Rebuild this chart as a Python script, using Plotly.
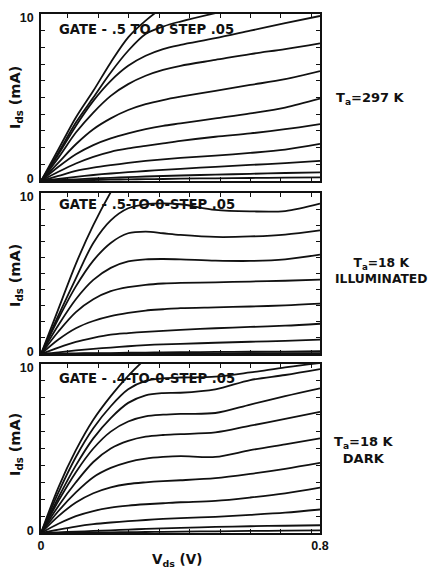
import plotly.graph_objects as go

# Drain voltage grid (V)
V = [0, 0.05, 0.1, 0.15, 0.2, 0.25, 0.3, 0.35, 0.4, 0.5, 0.6, 0.7, 0.8]

# Panel 1: Ta = 297 K, gate -.5 to 0 step .05  (Ids in mA)
p1_c1 = [0, 1.9, 3.8, 5.4, 7.1, 8.6, 9.6, 10.4, 11.0, 12.0, 12.8, 13.4, 14.0]
p1_c2 = [0, 1.7, 3.5, 5.0, 6.5, 7.8, 8.8, 9.25, 9.55, 10.05, 10.5, 10.9, 11.3]
p1_c3 = [0, 1.6, 3.3, 4.8, 6.0, 6.9, 7.5, 7.9, 8.15, 8.55, 9.0, 9.45, 9.88]
p1_c4 = [0, 1.4, 2.9, 4.1, 5.1, 5.8, 6.3, 6.65, 6.9, 7.25, 7.6, 7.9, 8.24]
p1_c5 = [0, 1.1, 2.2, 3.1, 3.75, 4.25, 4.6, 4.85, 5.05, 5.4, 5.75, 6.1, 6.58]
p1_c6 = [0, 0.85, 1.6, 2.15, 2.55, 2.85, 3.1, 3.3, 3.45, 3.75, 4.05, 4.4, 4.93]
p1_c7 = [0, 0.55, 1.05, 1.45, 1.75, 1.95, 2.1, 2.25, 2.4, 2.65, 2.85, 3.1, 3.41]
p1_c8 = [0, 0.3, 0.6, 0.8, 0.95, 1.08, 1.2, 1.3, 1.38, 1.52, 1.68, 1.88, 2.22]
p1_c9 = [0, 0.12, 0.25, 0.36, 0.45, 0.53, 0.6, 0.67, 0.73, 0.85, 0.96, 1.07, 1.2]
p1_c10 = [0, 0.05, 0.1, 0.15, 0.19, 0.23, 0.27, 0.3, 0.33, 0.38, 0.43, 0.48, 0.52]
p1_c11 = [0, 0.02, 0.04, 0.06, 0.08, 0.1, 0.11, 0.12, 0.14, 0.16, 0.18, 0.2, 0.22]

# Panel 2: Ta = 18 K illuminated
p2_c1 = [0, 2.8, 5.6, 8.0, 10.05, 11.8, 13.3, 14.6, 15.7, 17.5, 19.0, 20.3, 21.4]
p2_c2 = [0, 2.4, 4.7, 6.9, 8.3, 9.05, 9.3, 9.35, 9.3, 8.95, 8.86, 8.88, 9.34]
p2_c3 = [0, 2.2, 4.2, 5.8, 6.9, 7.5, 7.6, 7.5, 7.4, 7.27, 7.3, 7.42, 7.68]
p2_c4 = [0, 1.8, 3.4, 4.6, 5.35, 5.75, 5.88, 5.9, 5.88, 5.8, 5.78, 5.88, 6.17]
p2_c5 = [0, 1.4, 2.6, 3.4, 3.9, 4.15, 4.3, 4.38, 4.42, 4.45, 4.5, 4.55, 4.62]
p2_c6 = [0, 0.9, 1.6, 2.05, 2.35, 2.55, 2.7, 2.78, 2.85, 2.9, 2.95, 3.02, 3.13]
p2_c7 = [0, 0.4, 0.75, 1.0, 1.2, 1.3, 1.38, 1.44, 1.5, 1.6, 1.68, 1.76, 1.88]
p2_c8 = [0, 0.1, 0.22, 0.32, 0.4, 0.48, 0.55, 0.6, 0.63, 0.7, 0.76, 0.82, 0.89]
p2_c9 = [0, 0.02, 0.04, 0.05, 0.06, 0.08, 0.09, 0.1, 0.11, 0.13, 0.14, 0.15, 0.17]
p2_c10 = [0, 0.01, 0.01, 0.02, 0.02, 0.03, 0.03, 0.03, 0.04, 0.04, 0.05, 0.05, 0.06]

# Panel 3: Ta = 18 K dark, gate -.4 to 0 step .05
p3_c1 = [0, 2.7, 4.9, 6.7, 8.1, 9.3, 10.3, 11.1, 11.8, 13.0, 14.0, 14.8, 15.5]
p3_c2 = [0, 2.4, 4.5, 6.2, 7.5, 8.5, 9.0, 9.15, 9.2, 9.25, 9.5, 9.8, 10.06]
p3_c3 = [0, 2.1, 4.0, 5.6, 6.8, 7.7, 8.15, 8.28, 8.3, 8.5, 9.05, 9.35, 9.7]
p3_c4 = [0, 1.9, 3.6, 5.0, 6.0, 6.6, 6.9, 7.0, 7.05, 7.1, 7.6, 8.1, 8.56]
p3_c5 = [0, 1.6, 3.0, 4.2, 5.0, 5.45, 5.7, 5.8, 5.85, 5.95, 6.35, 6.75, 7.17]
p3_c6 = [0, 1.3, 2.4, 3.3, 3.85, 4.2, 4.4, 4.5, 4.55, 4.5, 4.9, 5.25, 5.6]
p3_c7 = [0, 1.0, 1.8, 2.35, 2.7, 2.9, 3.0, 3.07, 3.12, 3.25, 3.5, 3.8, 4.15]
p3_c8 = [0, 0.55, 1.0, 1.3, 1.5, 1.62, 1.7, 1.76, 1.82, 1.9, 2.1, 2.35, 2.69]
p3_c9 = [0, 0.2, 0.38, 0.52, 0.62, 0.7, 0.77, 0.83, 0.88, 0.96, 1.07, 1.2, 1.39]
p3_c10 = [0, 0.04, 0.08, 0.12, 0.16, 0.2, 0.24, 0.27, 0.3, 0.36, 0.4, 0.43, 0.46]
p3_c11 = [0, 0.01, 0.02, 0.03, 0.04, 0.05, 0.06, 0.07, 0.08, 0.1, 0.12, 0.14, 0.16]

panel1 = [p1_c1, p1_c2, p1_c3, p1_c4, p1_c5, p1_c6, p1_c7, p1_c8, p1_c9, p1_c10, p1_c11]
panel2 = [p2_c1, p2_c2, p2_c3, p2_c4, p2_c5, p2_c6, p2_c7, p2_c8, p2_c9, p2_c10]
panel3 = [p3_c1, p3_c2, p3_c3, p3_c4, p3_c5, p3_c6, p3_c7, p3_c8, p3_c9, p3_c10, p3_c11]

gate_labels = ["GATE - .5 TO 0 STEP .05", "GATE - .5-TO-0-STEP .05", "GATE - .4-TO-0-STEP .05"]
temp_labels = ["T<sub>a</sub>=297 K", "T<sub>a</sub>=18 K<br>ILLUMINATED", "T<sub>a</sub>=18 K<br>DARK"]
y_ticktext = ["0", "10"]
x_ticktext = ["0", "0.8"]

FONT = "DejaVu Sans, Liberation Sans, Arial, sans-serif"
TFONT = "Liberation Sans, Arial, sans-serif"
INK = "#111"
W, H = 430, 573
ML, MR, MT, MB = 41, 110, 14, 40
plot_h = H - MT - MB


def frac(py):
    return (H - MB - py) / plot_h


def px_x(px):
    return (px - ML) / (W - ML - MR)


def fnt(size, fam=FONT):
    return dict(size=size, family=fam, color=INK, weight="bold")


domains = [[frac(181), 1.0], [frac(354), frac(193)], [0.0, frac(364)]]

fig = go.Figure()
for i, curves in enumerate([panel1, panel2, panel3]):
    xa = "x" if i == 0 else f"x{i+1}"
    ya = "y" if i == 0 else f"y{i+1}"
    for c in curves:
        fig.add_trace(go.Scatter(x=V, y=c, mode="lines", xaxis=xa, yaxis=ya,
                                 line=dict(color=INK, width=1.8, shape="spline", smoothing=0.9),
                                 showlegend=False, hoverinfo="skip"))

layout = dict(width=W, height=H, margin=dict(l=ML, r=MR, t=MT, b=MB, autoexpand=False),
              paper_bgcolor="white", plot_bgcolor="white",
              font=dict(family=FONT, color=INK, size=12))

for i in range(3):
    xk = "xaxis" if i == 0 else f"xaxis{i+1}"
    yk = "yaxis" if i == 0 else f"yaxis{i+1}"
    ya = "y" if i == 0 else f"y{i+1}"
    xa = "x" if i == 0 else f"x{i+1}"
    layout[xk] = dict(range=[0, 0.8], anchor=ya, domain=[0, 1],
                      showline=True, linecolor=INK, linewidth=1.5, mirror="allticks",
                      showgrid=False, zeroline=False,
                      tickvals=[0, 0.8], ticktext=x_ticktext, ticks="inside", ticklen=0,
                      showticklabels=(i == 2), tickfont=fnt(12.5, TFONT),
                      minor=dict(ticks="inside", ticklen=4, tickcolor=INK, tick0=0.0774, dtick=0.0872))
    layout[yk] = dict(range=[0, 10], anchor=xa, domain=domains[i],
                      showline=True, linecolor=INK, linewidth=1.5, mirror="allticks",
                      showgrid=False, zeroline=False,
                      tickvals=[0.15, 9.8], ticktext=y_ticktext, ticks="inside", ticklen=0,
                      ticklabelstandoff=3, tickfont=fnt(12.5, TFONT),
                      minor=dict(ticks="inside", ticklen=4, tickcolor=INK, tick0=0, dtick=1))

fig.update_layout(**layout)

gate_y = [9.1, 9.27, 9.15]
for i in range(3):
    xa = "x" if i == 0 else f"x{i+1}"
    ya = "y" if i == 0 else f"y{i+1}"
    fig.add_annotation(x=0.049, y=gate_y[i], xref=xa, yref=ya, text=gate_labels[i],
                       showarrow=False, xanchor="left", yanchor="middle", borderpad=0,
                       font=fnt(13.2))

# y-axis titles
for cy in [98, 276, 445]:
    fig.add_annotation(x=px_x(16), y=frac(cy), xref="paper", yref="paper",
                       text="I<sub>ds</sub> (mA)", textangle=-90, showarrow=False,
                       xanchor="center", yanchor="middle", font=fnt(14.5))

# right-side condition labels
fig.add_annotation(x=px_x(370), y=frac(98), xref="paper", yref="paper", text=temp_labels[0],
                   showarrow=False, xanchor="center", yanchor="middle", font=fnt(13))
fig.add_annotation(x=px_x(381), y=frac(271), xref="paper", yref="paper", text=temp_labels[1],
                   showarrow=False, xanchor="center", yanchor="middle", align="center",
                   font=fnt(12.3))
fig.add_annotation(x=px_x(364), y=frac(450), xref="paper", yref="paper", text=temp_labels[2],
                   showarrow=False, xanchor="center", yanchor="middle", align="center",
                   font=fnt(13))

# x-axis title
fig.add_annotation(x=px_x(177), y=frac(560), xref="paper", yref="paper",
                   text="V<sub>ds</sub> (V)", showarrow=False, xanchor="center", yanchor="middle",
                   font=fnt(13.5))

fig.write_html("out.html", config={"displayModeBar": False},
               post_script="document.body.style.margin='0px';")
